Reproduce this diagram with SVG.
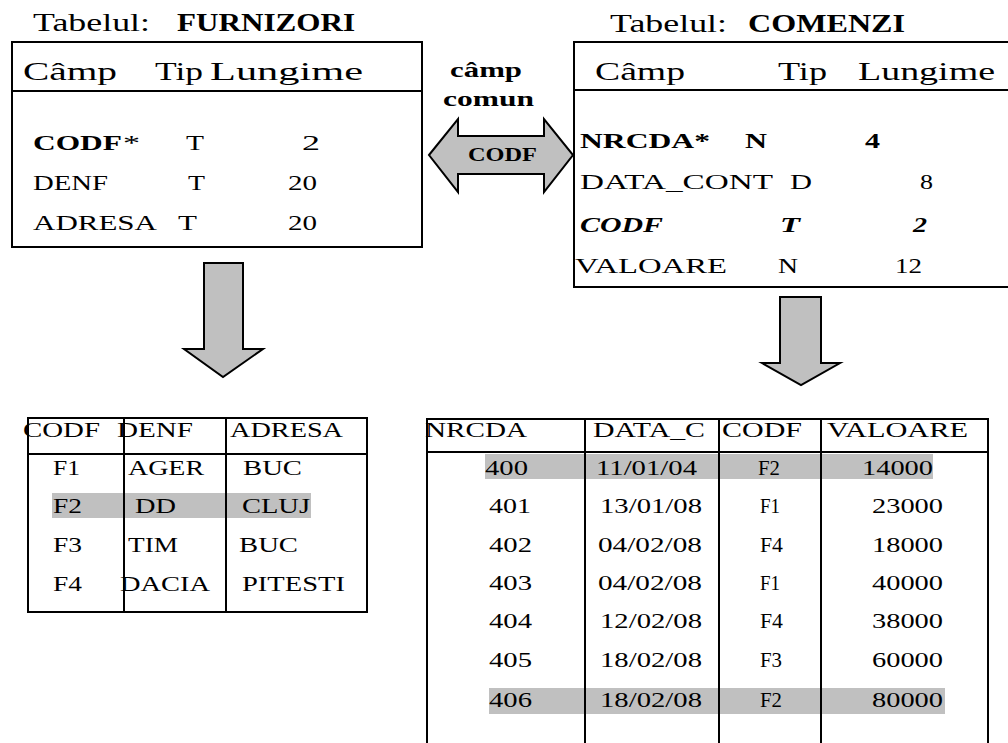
<svg xmlns="http://www.w3.org/2000/svg" width="1008" height="743" viewBox="0 0 1008 743">
<style>
text{font-family:"Liberation Serif","Times New Roman",serif;fill:#000}
.h{font-size:26px}
.r{font-size:22px}
.b{font-weight:bold}
.i{font-style:italic}
.ln{stroke:#000;stroke-width:2;fill:none}
.arr{fill:#c0c0c0;stroke:#000;stroke-width:2;stroke-linejoin:miter}
.hl{fill:#c0c0c0}
</style>
<rect width="1008" height="743" fill="#fff"/>

<g id="furnizori-schema">
<text class="h" x="33" y="31" textLength="117" lengthAdjust="spacingAndGlyphs">Tabelul:</text>
<text class="h b" x="177" y="31" textLength="178" lengthAdjust="spacingAndGlyphs">FURNIZORI</text>
<rect class="ln" x="12" y="42" width="410" height="205"/>
<line class="ln" x1="12" y1="91" x2="422" y2="91"/>
<text class="h" x="23" y="80" textLength="94" lengthAdjust="spacingAndGlyphs">Câmp</text>
<text class="h" x="155" y="80" textLength="48" lengthAdjust="spacingAndGlyphs">Tip</text>
<text class="h" x="210" y="80" textLength="153" lengthAdjust="spacingAndGlyphs">Lungime</text>
<text class="r b" x="33" y="150" textLength="89" lengthAdjust="spacingAndGlyphs">CODF</text>
<text class="r" x="123" y="150" textLength="17" lengthAdjust="spacingAndGlyphs">*</text>
<text class="r" x="186" y="150" textLength="18" lengthAdjust="spacingAndGlyphs">T</text>
<text class="r" x="302" y="150" textLength="18" lengthAdjust="spacingAndGlyphs">2</text>
<text class="r" x="33" y="190" textLength="75" lengthAdjust="spacingAndGlyphs">DENF</text>
<text class="r" x="188" y="190" textLength="17" lengthAdjust="spacingAndGlyphs">T</text>
<text class="r" x="288" y="190" textLength="29" lengthAdjust="spacingAndGlyphs">20</text>
<text class="r" x="33" y="230" textLength="124" lengthAdjust="spacingAndGlyphs">ADRESA</text>
<text class="r" x="178" y="230" textLength="19" lengthAdjust="spacingAndGlyphs">T</text>
<text class="r" x="288" y="230" textLength="29" lengthAdjust="spacingAndGlyphs">20</text>
</g>

<g id="comenzi-schema">
<text class="h" x="610" y="32" textLength="117" lengthAdjust="spacingAndGlyphs">Tabelul:</text>
<text class="h b" x="748" y="32" textLength="157" lengthAdjust="spacingAndGlyphs">COMENZI</text>
<polyline class="ln" points="1010,42 574,42 574,287 1010,287"/>
<line class="ln" x1="574" y1="90" x2="1010" y2="90"/>
<text class="h" x="595" y="80" textLength="90" lengthAdjust="spacingAndGlyphs">Câmp</text>
<text class="h" x="778" y="80" textLength="49" lengthAdjust="spacingAndGlyphs">Tip</text>
<text class="h" x="858" y="80" textLength="137" lengthAdjust="spacingAndGlyphs">Lungime</text>
<text class="r b" x="580" y="148" textLength="130" lengthAdjust="spacingAndGlyphs">NRCDA*</text>
<text class="r b" x="745" y="148" textLength="22" lengthAdjust="spacingAndGlyphs">N</text>
<text class="r b" x="865" y="148" textLength="15" lengthAdjust="spacingAndGlyphs">4</text>
<text class="r" x="580" y="189" textLength="193" lengthAdjust="spacingAndGlyphs">DATA_CONT</text>
<text class="r" x="790" y="189" textLength="22" lengthAdjust="spacingAndGlyphs">D</text>
<text class="r" x="920" y="189" textLength="13" lengthAdjust="spacingAndGlyphs">8</text>
<text class="r b i" x="580" y="232" textLength="83" lengthAdjust="spacingAndGlyphs">CODF</text>
<text class="r b i" x="780" y="232" textLength="20" lengthAdjust="spacingAndGlyphs">T</text>
<text class="r b i" x="913" y="232" textLength="14" lengthAdjust="spacingAndGlyphs">2</text>
<text class="r" x="575" y="273" textLength="152" lengthAdjust="spacingAndGlyphs">VALOARE</text>
<text class="r" x="778" y="273" textLength="20" lengthAdjust="spacingAndGlyphs">N</text>
<text class="r" x="895" y="273" textLength="27" lengthAdjust="spacingAndGlyphs">12</text>
</g>

<g id="common-field">
<text class="r b" x="450" y="77" textLength="72" lengthAdjust="spacingAndGlyphs">câmp</text>
<text class="r b" x="443" y="106" textLength="91" lengthAdjust="spacingAndGlyphs">comun</text>
</g>

<g id="connectors">
<polygon class="arr" points="429,155 458,119 458,136 544,136 544,119 573,155 544,192 544,174 458,174 458,192"/>
<polygon class="arr" points="204,263 243,263 243,349 263,349 223,377 184,349 204,349"/>
<polygon class="arr" points="780,297 821,297 821,363 840,363 801,385 762,363 780,363"/>
<text class="b" style="font-size:18px" x="468" y="161" textLength="69" lengthAdjust="spacingAndGlyphs">CODF</text>
</g>

<g id="furnizori-data">
<rect class="hl" x="52" y="493" width="259" height="25"/>
<rect class="ln" x="28" y="418" width="339" height="194"/>
<line class="ln" x1="28" y1="454" x2="367" y2="454"/>
<line class="ln" x1="124" y1="418" x2="124" y2="612"/>
<line class="ln" x1="226" y1="418" x2="226" y2="612"/>
<text class="r" x="23" y="437" textLength="77" lengthAdjust="spacingAndGlyphs">CODF</text>
<text class="r" x="117" y="437" textLength="76" lengthAdjust="spacingAndGlyphs">DENF</text>
<text class="r" x="230" y="437" textLength="113" lengthAdjust="spacingAndGlyphs">ADRESA</text>
<text class="r" x="53" y="475" textLength="27" lengthAdjust="spacingAndGlyphs">F1</text>
<text class="r" x="128" y="475" textLength="76" lengthAdjust="spacingAndGlyphs">AGER</text>
<text class="r" x="243" y="475" textLength="59" lengthAdjust="spacingAndGlyphs">BUC</text>
<text class="r" x="53" y="513" textLength="29" lengthAdjust="spacingAndGlyphs">F2</text>
<text class="r" x="135" y="513" textLength="41" lengthAdjust="spacingAndGlyphs">DD</text>
<text class="r" x="242" y="513" textLength="68" lengthAdjust="spacingAndGlyphs">CLUJ</text>
<text class="r" x="53" y="552" textLength="29" lengthAdjust="spacingAndGlyphs">F3</text>
<text class="r" x="128" y="552" textLength="50" lengthAdjust="spacingAndGlyphs">TIM</text>
<text class="r" x="239" y="552" textLength="59" lengthAdjust="spacingAndGlyphs">BUC</text>
<text class="r" x="53" y="591" textLength="29" lengthAdjust="spacingAndGlyphs">F4</text>
<text class="r" x="120" y="591" textLength="90" lengthAdjust="spacingAndGlyphs">DACIA</text>
<text class="r" x="242" y="591" textLength="103" lengthAdjust="spacingAndGlyphs">PITESTI</text>
</g>

<g id="comenzi-data">
<rect class="hl" x="485" y="454" width="448" height="25"/>
<rect class="hl" x="489" y="688" width="456" height="26"/>
<polyline class="ln" points="427,745 427,419 988,419 988,745"/>
<line class="ln" x1="427" y1="452" x2="988" y2="452"/>
<line class="ln" x1="585" y1="419" x2="585" y2="745"/>
<line class="ln" x1="719" y1="419" x2="719" y2="745"/>
<line class="ln" x1="821" y1="419" x2="821" y2="745"/>
<text class="r" x="425" y="437" textLength="102" lengthAdjust="spacingAndGlyphs">NRCDA</text>
<text class="r" x="593" y="437" textLength="112" lengthAdjust="spacingAndGlyphs">DATA_C</text>
<text class="r" x="722" y="437" textLength="80" lengthAdjust="spacingAndGlyphs">CODF</text>
<text class="r" x="827" y="437" textLength="141" lengthAdjust="spacingAndGlyphs">VALOARE</text>

<text class="r" x="485" y="475" textLength="43" lengthAdjust="spacingAndGlyphs">400</text>
<text class="r" x="596" y="475" textLength="101" lengthAdjust="spacingAndGlyphs">11/01/04</text>
<text class="r" x="758" y="475" textLength="22" lengthAdjust="spacingAndGlyphs">F2</text>
<text class="r" x="862" y="475" textLength="71" lengthAdjust="spacingAndGlyphs">14000</text>

<text class="r" x="489" y="513" textLength="42" lengthAdjust="spacingAndGlyphs">401</text>
<text class="r" x="600" y="513" textLength="102" lengthAdjust="spacingAndGlyphs">13/01/08</text>
<text class="r" x="760" y="513" textLength="20" lengthAdjust="spacingAndGlyphs">F1</text>
<text class="r" x="872" y="513" textLength="71" lengthAdjust="spacingAndGlyphs">23000</text>

<text class="r" x="489" y="552" textLength="43" lengthAdjust="spacingAndGlyphs">402</text>
<text class="r" x="598" y="552" textLength="104" lengthAdjust="spacingAndGlyphs">04/02/08</text>
<text class="r" x="760" y="552" textLength="23" lengthAdjust="spacingAndGlyphs">F4</text>
<text class="r" x="872" y="552" textLength="71" lengthAdjust="spacingAndGlyphs">18000</text>

<text class="r" x="489" y="590" textLength="43" lengthAdjust="spacingAndGlyphs">403</text>
<text class="r" x="598" y="590" textLength="104" lengthAdjust="spacingAndGlyphs">04/02/08</text>
<text class="r" x="760" y="590" textLength="20" lengthAdjust="spacingAndGlyphs">F1</text>
<text class="r" x="872" y="590" textLength="71" lengthAdjust="spacingAndGlyphs">40000</text>

<text class="r" x="489" y="628" textLength="43" lengthAdjust="spacingAndGlyphs">404</text>
<text class="r" x="600" y="628" textLength="102" lengthAdjust="spacingAndGlyphs">12/02/08</text>
<text class="r" x="760" y="628" textLength="23" lengthAdjust="spacingAndGlyphs">F4</text>
<text class="r" x="872" y="628" textLength="71" lengthAdjust="spacingAndGlyphs">38000</text>

<text class="r" x="489" y="667" textLength="43" lengthAdjust="spacingAndGlyphs">405</text>
<text class="r" x="600" y="667" textLength="102" lengthAdjust="spacingAndGlyphs">18/02/08</text>
<text class="r" x="760" y="667" textLength="22" lengthAdjust="spacingAndGlyphs">F3</text>
<text class="r" x="872" y="667" textLength="71" lengthAdjust="spacingAndGlyphs">60000</text>

<text class="r" x="489" y="707" textLength="43" lengthAdjust="spacingAndGlyphs">406</text>
<text class="r" x="600" y="707" textLength="102" lengthAdjust="spacingAndGlyphs">18/02/08</text>
<text class="r" x="760" y="707" textLength="22" lengthAdjust="spacingAndGlyphs">F2</text>
<text class="r" x="872" y="707" textLength="71" lengthAdjust="spacingAndGlyphs">80000</text>
</g>
</svg>
